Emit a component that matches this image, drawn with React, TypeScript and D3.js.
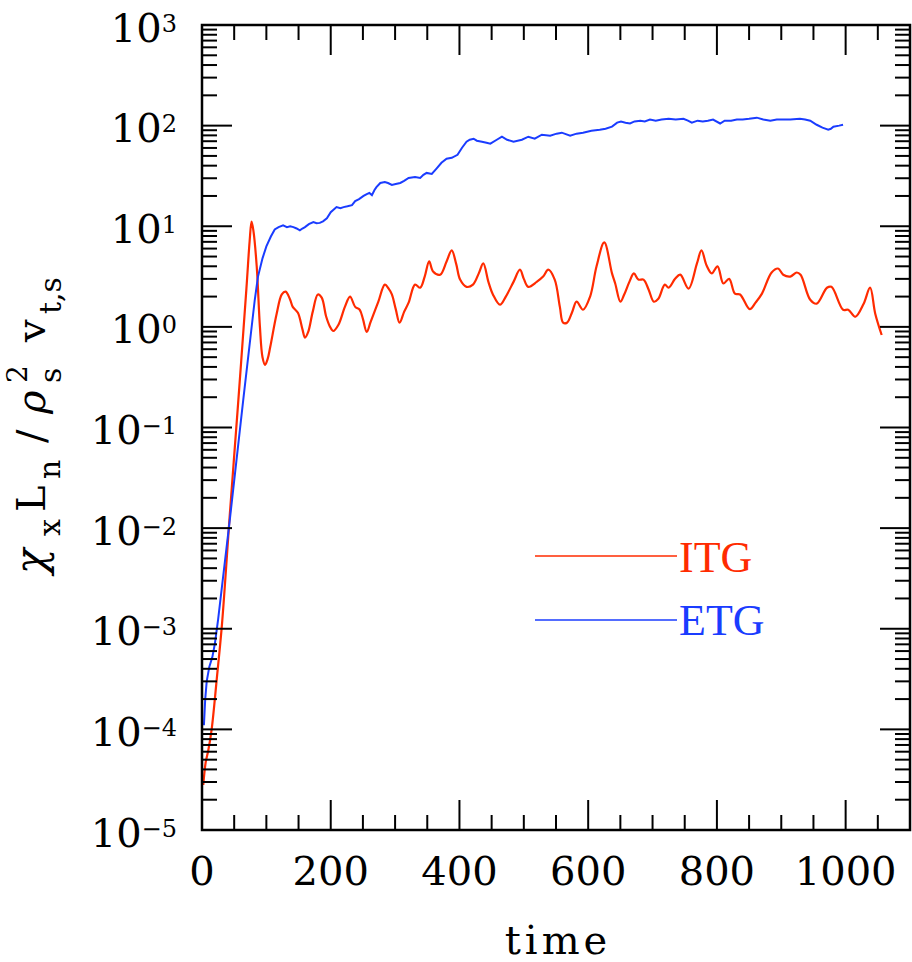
import React from 'react';
import * as d3 from 'd3';

// ITG (red) — time / chi values
const itgTime = [2, 5.7, 9.8, 15, 23, 31, 43.5, 56, 69, 74, 77, 80, 85, 90, 94, 98, 102, 106, 116, 124, 130, 137, 141, 149, 156, 160, 165, 172, 180, 186, 193, 199, 204, 212, 222, 230, 238, 245, 250, 256, 262, 274, 284, 290, 295, 301, 307, 314, 321, 331, 339, 346, 353, 359, 370, 380, 388, 395, 401, 411, 421, 430, 437, 445, 452, 463, 472, 484, 494, 500, 507, 520, 530, 538, 548, 556, 561, 567, 575, 582, 592, 603, 613, 625, 637, 642, 650, 656, 664, 671, 678, 686, 694, 702, 709, 719, 725, 735, 743, 756, 769, 776, 784, 792, 801, 810, 819, 828, 836, 851, 860, 870, 885, 895, 903, 914, 924, 930, 945, 955, 971, 978, 996, 1004, 1015, 1028, 1038, 1046, 1056];
const itgValue = [2.8e-5, 4.7e-5, 6.2e-5, 1.0e-4, 3.2e-4, 1.1e-3, 0.0145, 0.17, 2.4, 7.1, 11.1, 8.9, 4.0, 1.0, 0.5, 0.42, 0.48, 0.63, 1.35, 2.1, 2.24, 1.86, 1.58, 1.38, 0.95, 0.78, 0.89, 1.41, 2.1, 1.95, 1.26, 1.0, 0.91, 1.05, 1.58, 2.0, 1.58, 1.48, 1.2, 0.89, 1.12, 1.78, 2.63, 2.4, 2.1, 1.5, 1.1, 1.41, 1.74, 2.63, 2.45, 3.16, 4.47, 3.55, 3.3, 4.47, 5.75, 4.2, 2.95, 2.5, 2.63, 3.4, 4.27, 2.8, 2.1, 1.66, 2.0, 2.8, 3.7, 3.0, 2.5, 2.8, 3.16, 3.7, 2.95, 1.58, 1.1, 1.1, 1.4, 1.78, 1.48, 2.0, 4.0, 6.9, 3.4, 2.7, 1.78, 2.1, 2.8, 3.4, 2.95, 2.95, 2.34, 1.78, 1.9, 2.63, 2.45, 3.0, 3.3, 2.4, 4.27, 5.75, 4.07, 3.4, 4.0, 2.7, 3.0, 2.14, 2.1, 1.5, 1.74, 2.14, 3.47, 3.8, 3.3, 3.16, 3.47, 3.3, 1.86, 1.7, 2.45, 2.5, 1.48, 1.48, 1.26, 1.7, 2.45, 1.35, 0.83];

// ETG (blue)
const etgTime = [3, 5, 7.3, 11.4, 16, 20, 25, 43.5, 64, 82, 87, 94, 100, 107, 113, 119, 126, 132, 137, 142, 147, 152, 156, 160, 166, 173, 178, 183, 188, 194, 200, 209, 215, 220, 226, 233, 238, 244, 251, 256, 260, 264, 268, 271, 277, 284, 289, 295, 301, 308, 314, 321, 331, 339, 344, 349, 357, 364, 372, 380, 388, 397, 404, 411, 416, 422, 427, 435, 442, 448, 458, 466, 474, 484, 497, 507, 517, 528, 541, 551, 559, 572, 582, 592, 605, 618, 627, 637, 645, 651, 658, 665, 672, 681, 688, 696, 705, 714, 725, 736, 748, 755, 761, 770, 778, 786, 794, 805, 812, 822, 831, 840, 850, 862, 872, 883, 893, 903, 914, 929, 937, 945, 955, 964, 973, 977, 981, 990, 996];
const etgValue = [1.1e-4, 2.0e-4, 3.0e-4, 4.2e-4, 5.2e-4, 7.1e-4, 1.23e-3, 0.0126, 0.186, 1.86, 3.16, 4.8, 6.3, 7.9, 9.3, 9.8, 10.2, 9.8, 10, 9.8, 9.5, 9.1, 9.5, 9.8, 10.5, 11, 10.7, 10.8, 11.2, 12, 13.8, 15.5, 15.1, 15.5, 15.8, 16.2, 17.8, 18.6, 20, 20.9, 21.4, 20.4, 22.9, 24.5, 26.9, 27.5, 26.9, 25.7, 26.3, 26.9, 28.2, 30.2, 30.9, 30.2, 32.4, 33.9, 33.1, 37.2, 42.7, 46.8, 47.9, 51.3, 60.3, 69.2, 72.4, 74.1, 70.8, 69.2, 67.6, 66.1, 72.4, 77.6, 72.4, 69.2, 72.4, 77.6, 74.1, 81.3, 79.4, 83.2, 85.1, 79.4, 83.2, 85.1, 89.1, 91.2, 93.3, 97.7, 107, 110, 107, 105, 110, 112, 110, 115, 112, 115, 117, 115, 117, 112, 107, 112, 110, 112, 115, 105, 112, 112, 115, 115, 117, 120, 115, 112, 115, 115, 115, 117, 115, 112, 102, 95.5, 91.2, 93, 97.7, 100, 102];

const xMajor = [0, 200, 400, 600, 800, 1000];
const yExponents = [-5, -4, -3, -2, -1, 0, 1, 2, 3];
const seriesNames = ['ITG', 'ETG'];
const seriesColors = ['#ff2b00', '#1a3cff'];

const W = 912, H = 962;
const left = 202, right = 910, top = 25, bottom = 830;
const serif = '"DejaVu Serif", serif';

export default function App() {
  const x = d3.scaleLinear().domain([0, 1100]).range([left, right]);
  const y = d3.scaleLog().domain([1e-5, 1e3]).range([bottom, top]);

  const xMinor = d3.range(50, 1100, 50).filter(t => t % 200 !== 0);
  const yMinor: number[] = [];
  yExponents.slice(0, -1).forEach(e => {
    for (let k = 2; k <= 9; k++) yMinor.push(k * Math.pow(10, e));
  });

  const redLine = d3.line<number>()
    .x((d, i) => x(itgTime[i]))
    .y(d => y(d))
    .curve(d3.curveCatmullRom.alpha(0.5));
  const blueLine = d3.line<number>()
    .x((d, i) => x(etgTime[i]))
    .y(d => y(d));

  const tick = { stroke: '#000', strokeWidth: 2 };
  const sup = (s: string) => s.replace('-', '\u2212');

  return (
    <svg width={W} height={H} style={{ position: 'absolute', left: 0, top: 0, background: '#fff' }}>
      {/* data */}
      <path d={redLine(itgValue) || ''} fill="none" stroke={seriesColors[0]} strokeWidth={2.2} />
      <path d={blueLine(etgValue) || ''} fill="none" stroke={seriesColors[1]} strokeWidth={2} />

      {/* frame */}
      <rect x={left} y={top} width={right - left} height={bottom - top} fill="none" stroke="#000" strokeWidth={2.5} />

      {/* x ticks, top and bottom */}
      {xMajor.map(t => (
        <g key={'xM' + t}>
          <line x1={x(t)} x2={x(t)} y1={bottom} y2={bottom - 30} {...tick} />
          <line x1={x(t)} x2={x(t)} y1={top} y2={top + 30} {...tick} />
          <text x={x(t)} y={885} textAnchor="middle" fontFamily={serif} fontSize={40}>{t}</text>
        </g>
      ))}
      {xMinor.map(t => (
        <g key={'xm' + t}>
          <line x1={x(t)} x2={x(t)} y1={bottom} y2={bottom - 15} {...tick} />
          <line x1={x(t)} x2={x(t)} y1={top} y2={top + 15} {...tick} />
        </g>
      ))}

      {/* y ticks, left and right */}
      {yExponents.map(e => {
        const v = Math.pow(10, e);
        return (
          <g key={'yM' + e}>
            <line x1={left} x2={left + 30} y1={y(v)} y2={y(v)} {...tick} />
            <line x1={right} x2={right - 30} y1={y(v)} y2={y(v)} {...tick} />
            <text x={177} y={y(v) + 16.5} textAnchor="end" fontFamily={serif} fontSize={40}>
              10<tspan dy={-10} fontSize={24}>{sup(String(e))}</tspan>
            </text>
          </g>
        );
      })}
      {yMinor.map(v => (
        <g key={'ym' + v}>
          <line x1={left} x2={left + 15} y1={y(v)} y2={y(v)} {...tick} />
          <line x1={right} x2={right - 15} y1={y(v)} y2={y(v)} {...tick} />
        </g>
      ))}

      {/* axis titles */}
      <text x={558} y={954} textAnchor="middle" fontFamily={serif} fontSize={40} letterSpacing={4}>time</text>
      <g transform="translate(45,0) rotate(-90)" fontFamily={serif}>
        <text x={-574} y={0} fontSize={42} fontStyle="italic">χ</text>
        <text x={-536} y={15} fontSize={30}>x</text>
        <text x={-512} y={0} fontSize={40}>L</text>
        <text x={-479} y={15} fontSize={30}>n</text>
        <text x={-443} y={0} fontSize={40}>/</text>
        <text x={-414} y={0} fontSize={40} fontStyle="italic">ρ</text>
        <text x={-383} y={-18} fontSize={28}>2</text>
        <text x={-383} y={16} fontSize={30}>s</text>
        <text x={-342} y={0} fontSize={40}>v</text>
        <text x={-314} y={16} fontSize={30}>t,s</text>
      </g>

      {/* legend */}
      {seriesNames.map((name, i) => (
        <g key={name}>
          <line x1={535} x2={677} y1={556 + i * 64} y2={556 + i * 64} stroke={seriesColors[i]} strokeWidth={1.6} />
          <text x={679} y={572 + i * 63} fill={seriesColors[i]} fontFamily='"Liberation Serif", serif' fontSize={44}>{name}</text>
        </g>
      ))}
    </svg>
  );
}
